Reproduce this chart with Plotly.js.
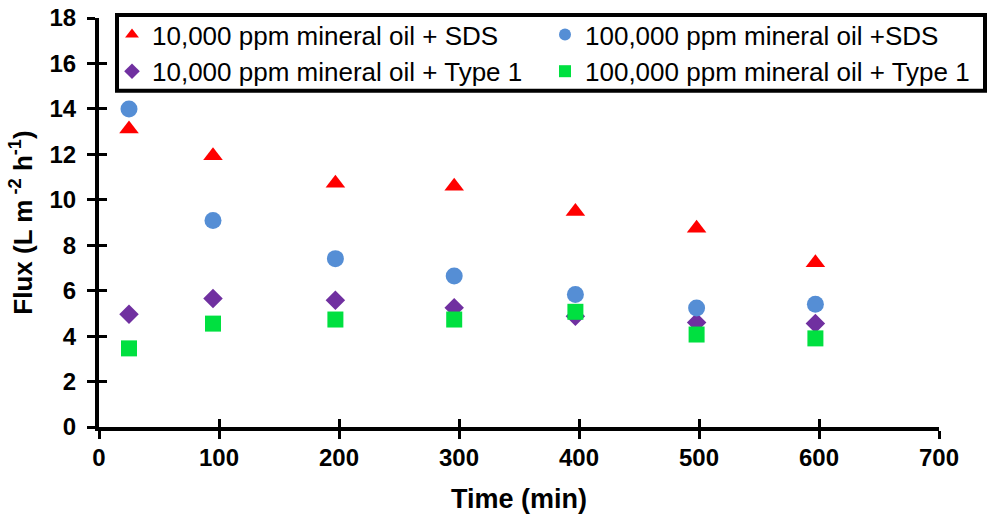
<!DOCTYPE html>
<html>
<head>
<meta charset="utf-8">
<script src="https://cdn.plot.ly/plotly-3.0.1.min.js"></script>
<style>
  html, body { margin: 0; padding: 0; background: #ffffff; }
  #chart { width: 987px; height: 514px; }
</style>
</head>
<body>
<div id="chart"></div>
<script>
// Time (min)
const time = [25, 95, 197, 296, 397, 498, 597];
// Flux (L m-2 h-1)
const sds10k   = [13.12, 11.94, 10.73, 10.6, 9.48, 8.75, 7.23];
const sds100k  = [14.0, 9.09, 7.41, 6.65, 5.83, 5.24, 5.4];
const type10k  = [4.96, 5.65, 5.58, 5.25, 4.87, 4.6, 4.56];
const type100k = [3.46, 4.55, 4.73, 4.73, 5.07, 4.07, 3.9];

const names = [
  '10,000 ppm mineral oil + SDS',
  '100,000 ppm mineral oil +SDS',
  '10,000 ppm mineral oil + Type 1',
  '100,000 ppm mineral oil + Type 1'
];
const xTicks = [0, 100, 200, 300, 400, 500, 600, 700];
const yTicks = [0, 2, 4, 6, 8, 10, 12, 14, 16, 18];

const FONT = '"Liberation Sans", Arial, sans-serif';

function tr(y, name, symbol, color, size, legend) {
  return {
    type: 'scatter', mode: 'markers', x: time, y: y, name: name,
    legend: legend,
    marker: { symbol: symbol, color: color, size: size, line: { width: 0 } },
    cliponaxis: false
  };
}

const data = [
  tr(sds10k, names[0], 'triangle-up', '#FF0000', 17, 'legend'),
  tr(type10k, names[2], 'diamond', '#7030A0', 15, 'legend'),
  tr(sds100k, names[1], 'circle', '#558ED5', 17, 'legend2'),
  tr(type100k, names[3], 'square', '#00E040', 16, 'legend2'),
  { type: 'scatter', x: [], y: [], xaxis: 'x2', yaxis: 'y2', showlegend: false, hoverinfo: 'skip' }
];

const tickFont = { family: FONT, size: 24, color: '#000', weight: 'bold' };
const legendFont = { family: FONT, size: 26, color: '#000' };

const layout = {
  width: 987, height: 514,
  margin: { l: 99, r: 48, t: 17, b: 87, pad: 0 },
  paper_bgcolor: '#ffffff', plot_bgcolor: '#ffffff',
  showlegend: true,
  xaxis: {
    range: [0, 700], tickvals: xTicks, ticktext: xTicks.map(String),
    showgrid: false, zeroline: false,
    showline: true, linecolor: '#000', linewidth: 4,
    ticks: 'outside', ticklen: 8, tickwidth: 3, tickcolor: '#000',
    ticklabelstandoff: -2,
    tickfont: tickFont,
    title: { text: 'Time (min)', font: { family: FONT, size: 27, color: '#000', weight: 'bold' }, standoff: 20 }
  },
  yaxis: {
    range: [0, 18], tickvals: yTicks, ticktext: yTicks.map(String),
    showgrid: false, zeroline: false,
    showline: true, linecolor: '#000', linewidth: 4,
    ticks: 'outside', ticklen: 8, tickwidth: 3, tickcolor: '#000',
    ticklabelstandoff: 6,
    tickfont: tickFont,
    title: { text: 'Flux (L m<sup> -2</sup> h<sup>-1</sup>)', font: { family: FONT, size: 26, color: '#000', weight: 'bold' }, standoff: 10 }
  },
  xaxis2: {
    overlaying: 'x', anchor: 'y2', range: [0, 700], tickvals: xTicks,
    showticklabels: false, showgrid: false, zeroline: false, showline: false,
    ticks: 'inside', ticklen: 8, tickwidth: 3, tickcolor: '#000', side: 'bottom'
  },
  yaxis2: {
    overlaying: 'y', anchor: 'x2', range: [0, 18], tickvals: yTicks,
    showticklabels: false, showgrid: false, zeroline: false, showline: false,
    ticks: 'inside', ticklen: 8, tickwidth: 3, tickcolor: '#000', side: 'left'
  },
  legend: {
    x: (112 - 99) / 840, xanchor: 'left', y: (427 - 11) / 410, yanchor: 'top',
    orientation: 'v', bgcolor: 'rgba(0,0,0,0)', borderwidth: 0,
    font: legendFont, itemsizing: 'constant', tracegroupgap: 0
  },
  legend2: {
    x: (545 - 99) / 840, xanchor: 'left', y: (427 - 11) / 410, yanchor: 'top',
    orientation: 'v', bgcolor: 'rgba(0,0,0,0)', borderwidth: 0,
    font: legendFont, itemsizing: 'constant', tracegroupgap: 0
  },
  shapes: [{
    type: 'rect', xref: 'paper', yref: 'paper', layer: 'above',
    x0: (117 - 99) / 840, x1: (985 - 99) / 840,
    y0: (427 - 90) / 410, y1: (427 - 14) / 410,
    line: { color: '#000', width: 4 }, fillcolor: 'rgba(0,0,0,0)'
  }]
};

Plotly.newPlot('chart', data, layout, { displayModeBar: false, staticPlot: true });
</script>
</body>
</html>
